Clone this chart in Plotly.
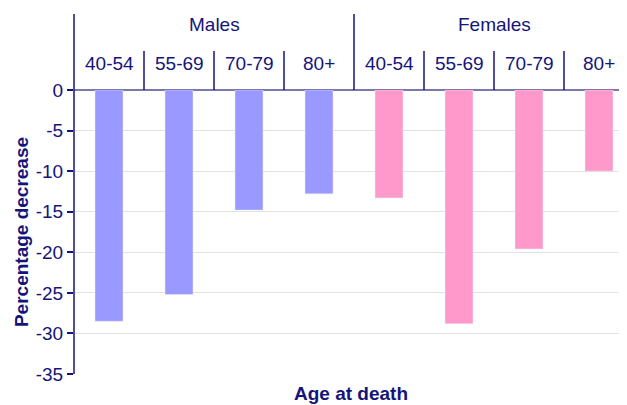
import plotly.graph_objects as go

# data
groups = ["Males", "Females"]
age_bands = ["40-54", "55-69", "70-79", "80+"]
males = [-28.5, -25.2, -14.8, -12.8]
females = [-13.3, -28.8, -19.6, -10.0]
y_ticks = [0, -5, -10, -15, -20, -25, -30, -35]
y_tick_text = ["0", "-5", "-10", "-15", "-20", "-25", "-30", "-35"]

navy = "#14147a"
font = "Liberation Sans, Arial, sans-serif"

x_m = list(range(4))
x_f = list(range(4, 8))

fig = go.Figure()
fig.add_trace(go.Bar(x=x_m, y=males, name="Males",
                     marker_color="#9999ff", width=0.4))
fig.add_trace(go.Bar(x=x_f, y=females, name="Females",
                     marker_color="#ff99cc", width=0.4))

# page body has an 8px margin, so the figure is 8px smaller each way
fig.update_layout(
    width=619, height=397,
    margin=dict(l=66, r=0, t=82, b=31, pad=0),
    plot_bgcolor="white", paper_bgcolor="white",
    showlegend=False,
    font=dict(family=font, size=19, color=navy),
)
fig.update_xaxes(range=[-0.5, 7.4], showgrid=False, zeroline=False,
                 showticklabels=False, showline=False, ticks="")
fig.update_yaxes(range=[-35, 0], tickvals=y_ticks, ticktext=y_tick_text,
                 showgrid=True, gridcolor="#e2e2e2", gridwidth=1,
                 zeroline=True, zerolinecolor="#7a7aaa", zerolinewidth=2,
                 ticks="outside", ticklen=6, tickcolor=navy, tickwidth=1.5,
                 showline=False,
                 tickfont=dict(size=19, color=navy),
                 title=dict(text="<b>Percentage decrease</b>", standoff=2,
                            font=dict(size=19, color=navy)))

# y axis line reaching up through the header
fig.add_shape(type="line", xref="paper", yref="paper", x0=0, x1=0,
              y0=0, y1=1.268, line=dict(color=navy, width=1.5))
# header dividers
for i in range(1, 8):
    top = 1.268 if i == 4 else 1.137
    fig.add_shape(type="line", xref="x", yref="paper", x0=i - 0.5, x1=i - 0.5,
                  y0=1, y1=top, line=dict(color=navy, width=1.5))

# header labels
for gi, g in enumerate(groups):
    fig.add_annotation(x=gi * 4 + 1.5, y=1.2306, xref="x", yref="paper",
                       text=g, showarrow=False, yanchor="middle",
                       font=dict(size=19, color=navy))
    for ai, a in enumerate(age_bands):
        fig.add_annotation(x=gi * 4 + ai, y=1.0933, xref="x", yref="paper",
                           text=a, showarrow=False, yanchor="middle",
                           font=dict(size=19, color=navy))

fig.add_annotation(x=0.5, y=-0.067, xref="paper", yref="paper",
                   text="<b>Age at death</b>", showarrow=False,
                   yanchor="middle", font=dict(size=19, color=navy))

fig.write_html("out.html")
